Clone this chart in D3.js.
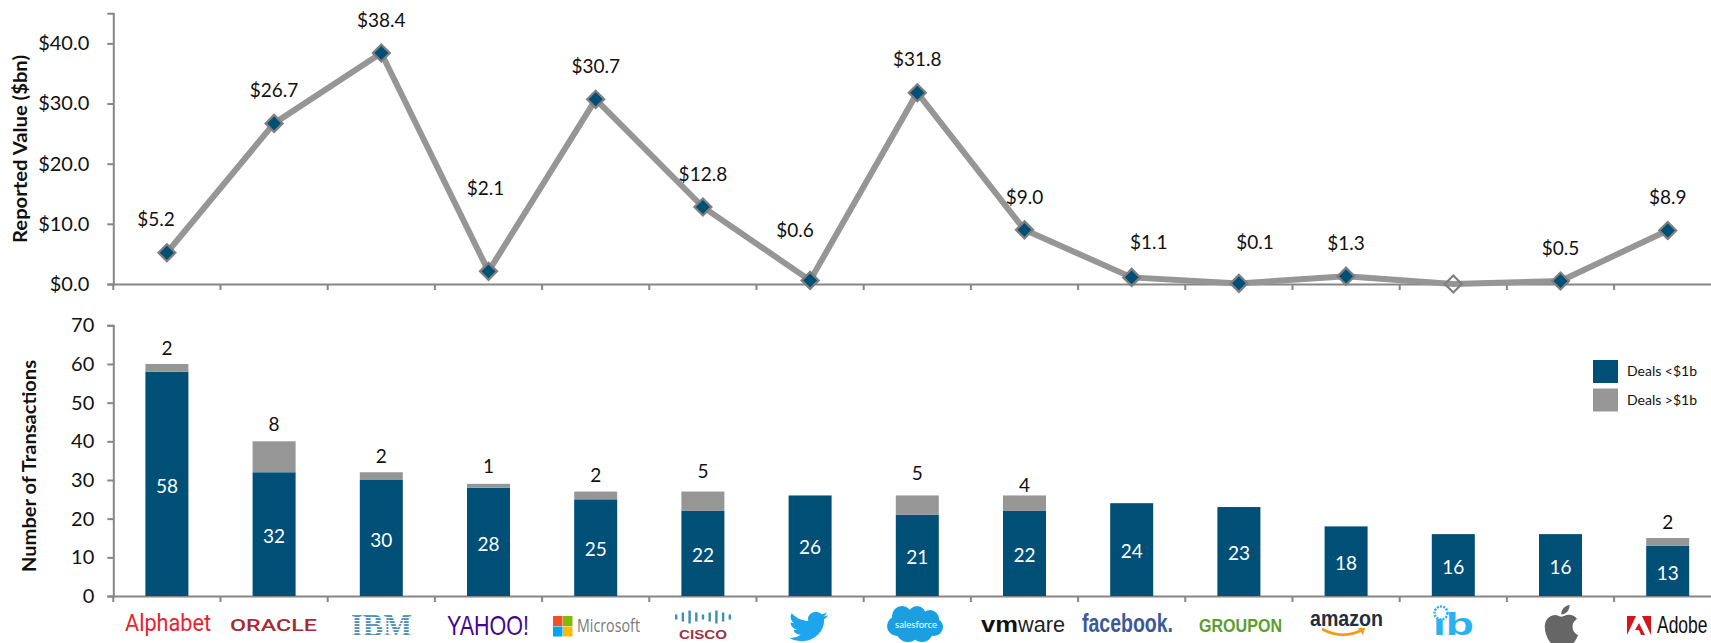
<!DOCTYPE html>
<html>
<head>
<meta charset="utf-8">
<script src="https://cdnjs.cloudflare.com/ajax/libs/d3/7.8.5/d3.min.js"></script>
<style>
html,body{margin:0;padding:0;background:#fff;overflow:hidden}
svg{display:block}
text{font-family:Lato,"Open Sans",sans-serif}
</style>
</head>
<body>
<svg id="chart" width="1711" height="643"></svg>
<script>
const companies = ["Alphabet","Oracle","IBM","Yahoo","Microsoft","Cisco","Twitter","Salesforce","VMware","Facebook","Groupon","Amazon","IB","Apple","Adobe"];
const reportedValue = [5.2,26.7,38.4,2.1,30.7,12.8,0.6,31.8,9.0,1.1,0.1,1.3,0,0.5,8.9];
const hasReportedValue = [1,1,1,1,1,1,1,1,1,1,1,1,0,1,1];
const dealsUnder1b = [58,32,30,28,25,22,26,21,22,24,23,18,16,16,13];
const dealsOver1b = [2,8,2,1,2,5,0,5,4,0,0,0,0,0,2];
const valueTicks = [0,10,20,30,40];
const countTicks = [0,10,20,30,40,50,60,70];
const legendLabels = ["Deals <$1b","Deals >$1b"];

const BLUE="#004f76", GREY="#969696", AXIS="#868686", INK="#111";
const svg=d3.select("#chart");
const left=113.3, band=107.2;
const x=d3.scaleBand().domain(companies).range([left,left+band*companies.length]).paddingInner(0).paddingOuter(0);
const yTop=d3.scaleLinear().domain([0,45]).range([284,13.3]);
const yBot=d3.scaleLinear().domain([0,70]).range([596,325.3]);
const cx=c=>x(c)+x.bandwidth()/2;

function axes(scale,ticks,fmt,pad){
  const y0=scale.range()[0];
  const ay=d3.axisLeft(scale).tickValues(ticks).tickFormat(fmt).tickSize(6).tickPadding(pad);
  const gy=svg.append("g").attr("transform",`translate(${left},0)`).call(ay);
  gy.selectAll("path,line").attr("stroke",AXIS).attr("stroke-width",2);
  gy.selectAll("text").attr("font-size",20).attr("fill",INK).style("font-family","Lato");
  const ax=d3.axisBottom(x).tickValues(companies).tickFormat("").tickSize(0);
  const gx=svg.append("g").attr("transform",`translate(0,${y0})`).call(ax);
  gx.select("path").attr("stroke",AXIS).attr("stroke-width",2);
  gx.selectAll(".tick").remove();
  gx.selectAll("line.t").data(companies).join("line").attr("class","t")
    .attr("x1",c=>x(c)).attr("x2",c=>x(c)).attr("y1",0).attr("y2",6)
    .attr("stroke",AXIS).attr("stroke-width",2);
}
axes(yTop,valueTicks,d=>"$"+d3.format(".1f")(d),18);
axes(yBot,countTicks,d=>d,13);

// axis titles
svg.append("text").attr("transform","translate(21,149) rotate(-90)").attr("dy","0.35em").attr("text-anchor","middle")
  .attr("font-size",18).attr("font-weight",700).attr("fill",INK).attr("textLength",188).attr("lengthAdjust","spacingAndGlyphs").text("Reported Value ($bn)");
svg.append("text").attr("transform","translate(30,466) rotate(-90)").attr("dy","0.35em").attr("text-anchor","middle")
  .attr("font-size",18).attr("font-weight",700).attr("fill",INK).attr("textLength",212).attr("lengthAdjust","spacingAndGlyphs").text("Number of Transactions");

// line
const line=d3.line().x((d,i)=>cx(companies[i])).y(d=>yTop(d));
svg.append("path").datum(reportedValue).attr("d",line).attr("fill","none").attr("stroke",GREY).attr("stroke-width",6).attr("stroke-linejoin","miter");
svg.selectAll("path.m").data(reportedValue).join("path").attr("class","m")
  .attr("transform",(d,i)=>`translate(${cx(companies[i])},${yTop(d)})`)
  .attr("d",`M0,-8.5 L8.5,0 L0,8.5 L-8.5,0 Z`)
  .attr("fill",(d,i)=>hasReportedValue[i]?BLUE:"none")
  .attr("stroke","#7f7f7f").attr("stroke-width",2.2);

// value labels (manual placement, as in the source chart)
const topNudge=[[-11,-33],[0,-33],[0,-33],[-3,-83],[0,-33],[0,-33],[-15,-50],[0,-33],[0,-33],[17,-35],[16,-41],[0,-33],[0,0],[0,-33],[0,-33]];
const labelled=d3.range(companies.length).filter(i=>hasReportedValue[i]);
svg.selectAll("text.v").data(labelled).join("text").attr("class","v")
  .attr("x",i=>cx(companies[i])+topNudge[i][0])
  .attr("y",i=>yTop(reportedValue[i])+topNudge[i][1])
  .attr("text-anchor","middle").attr("dy","0.35em").attr("font-size",19).attr("fill",INK)
  .text(i=>"$"+d3.format(".1f")(reportedValue[i]));

// bars
const bw=43;
companies.forEach((c,i)=>{
  const a=dealsUnder1b[i], b=dealsOver1b[i];
  svg.append("rect").attr("x",cx(c)-bw/2).attr("width",bw).attr("y",yBot(a)).attr("height",yBot(0)-yBot(a)).attr("fill",BLUE);
  if(b>0) svg.append("rect").attr("x",cx(c)-bw/2).attr("width",bw).attr("y",yBot(a+b)).attr("height",yBot(a)-yBot(a+b)).attr("fill",GREY);
  svg.append("text").attr("x",cx(c)).attr("y",yBot(a/2)+2).attr("dy","0.35em").attr("text-anchor","middle").attr("font-size",19).attr("fill","#fff").text(a);
});
const overDy=[-16,-17,-16,-18,-16,-20,0,-22,-10,0,0,0,0,0,-16];
companies.forEach((c,i)=>{
  if(dealsOver1b[i]>0) svg.append("text").attr("x",cx(c)).attr("y",yBot(dealsUnder1b[i]+dealsOver1b[i])+overDy[i]).attr("dy","0.35em")
    .attr("text-anchor","middle").attr("font-size",19).attr("fill",INK).text(dealsOver1b[i]);
});

// legend
legendLabels.forEach((t,i)=>{
  const ly=360+i*28.5;
  svg.append("rect").attr("x",1593).attr("y",ly).attr("width",25).attr("height",23).attr("fill",i?GREY:BLUE);
  svg.append("text").attr("x",1627).attr("y",ly+11.5).attr("dy","0.35em").attr("font-size",14).attr("fill",INK).text(t);
});

// company logos, as styled text and simple shapes
const logo=svg.append("g");
function word(t,x0,x1,base,size,fill,weight,family){
  return logo.append("text").attr("x",x0).attr("y",base).attr("font-size",size).attr("fill",fill)
   .attr("font-weight",weight||400).style("font-family",family||"Lato")
   .attr("textLength",x1-x0).attr("lengthAdjust","spacingAndGlyphs").text(t);
}
word("Alphabet",125,211,631,23,"#e8232d",400,"Roboto");
word("ORACLE",230,317,631,17,"#a72b35",500,"Roboto");
// IBM striped
word("IBM",351,412,636,31,"#4f8db5",700,"Liberation Serif");
for(let k=0;k<8;k++) logo.append("rect").attr("x",349).attr("width",65).attr("y",614+k*3).attr("height",1.1).attr("fill","#fff");
word("YAHOO!",447,529,635,28,"#41098f",400,"Liberation Sans");
// Microsoft
[["#f25022",553,616],["#7fba00",563,616],["#00a4ef",553,626.5],["#ffb900",563,626.5]].forEach(s=>
  logo.append("rect").attr("x",s[1]).attr("y",s[2]).attr("width",9.5).attr("height",10).attr("fill",s[0]));
word("Microsoft",577,640,632,19,"#7a7a7a",400,"Open Sans");
// Cisco
const ciscoH=[5,9,13,9,5,9,13,9,5];
ciscoH.forEach((h,k)=>logo.append("rect").attr("x",675+k*6.7).attr("width",2.4).attr("y",617-h/2).attr("height",h).attr("fill","#3f8fae"));
word("CISCO",679,727,639,13,"#a1323f",700,"Liberation Sans");
// Twitter
logo.append("path").attr("transform","translate(789,608.5) scale(1.63,1.5)").attr("fill","#1da5ee")
 .attr("d","M23.953 4.57a10 10 0 01-2.825.775 4.958 4.958 0 002.163-2.723c-.951.555-2.005.959-3.127 1.184a4.92 4.92 0 00-8.384 4.482C7.69 8.095 4.067 6.13 1.64 3.162a4.822 4.822 0 00-.666 2.475c0 1.71.87 3.213 2.188 4.096a4.904 4.904 0 01-2.228-.616v.06a4.923 4.923 0 003.946 4.827 4.996 4.996 0 01-2.212.085 4.936 4.936 0 004.604 3.417 9.867 9.867 0 01-6.102 2.105c-.39 0-.779-.023-1.17-.067a13.995 13.995 0 007.557 2.209c9.053 0 13.998-7.496 13.998-13.985 0-.21 0-.42-.015-.63A9.935 9.935 0 0024 4.59z");
// Salesforce cloud
[[902,616,10],[917,615,9],[930,619,9],[934,627,9],[897,626,10],[908,630,12],[922,631,11]].forEach(c=>
  logo.append("circle").attr("cx",c[0]).attr("cy",c[1]).attr("r",c[2]).attr("fill","#1b9fe0"));
word("salesforce",895,937,628,10,"#fff",400,"Lato");
// VMware
word("vm",981,1018,632,22,"#111",700,"Liberation Sans");
word("ware",1018,1065,632,22,"#222",400,"Liberation Sans");
// Facebook
word("facebook.",1082,1173,632,26,"#3b5998",700,"Liberation Sans");
// Groupon
word("GROUPON",1199,1282,632,18,"#5c9e2e",700,"Liberation Sans");
// Amazon
word("amazon",1310,1383,626,22,"#222f3e",700,"Liberation Sans");
logo.append("path").attr("d","M1322,629 Q1342,640 1362,630").attr("fill","none").attr("stroke","#f39a1e").attr("stroke-width",2.6);
logo.append("path").attr("d","M1358,628 L1365,628 L1363,635 Z").attr("fill","#f39a1e");
// ib
word("ib",1433,1474,635,32,"#2ab2ee",700,"Liberation Sans");
logo.append("circle").attr("cx",1441).attr("cy",613).attr("r",6.5).attr("fill","#fff").attr("stroke","#2ab2ee").attr("stroke-width",2.5).attr("stroke-dasharray","2 1.2");
// Apple
logo.append("path").attr("transform","translate(1541,605) scale(1.7,1.7)").attr("fill","#666")
 .attr("d","M12.152 6.896c-.948 0-2.415-1.078-3.96-1.04-2.04.027-3.91 1.183-4.961 3.014-2.117 3.675-.546 9.103 1.519 12.09 1.013 1.454 2.208 3.09 3.792 3.039 1.52-.065 2.09-.987 3.935-.987 1.831 0 2.35.987 3.96.948 1.637-.026 2.676-1.48 3.676-2.948 1.156-1.688 1.636-3.325 1.662-3.415-.039-.013-3.182-1.221-3.22-4.857-.026-3.04 2.48-4.494 2.597-4.559-1.429-2.09-3.623-2.324-4.39-2.376-2-.156-3.675 1.09-4.61 1.09zM15.53 3.83c.843-1.012 1.4-2.427 1.245-3.83-1.207.052-2.662.805-3.532 1.818-.78.896-1.454 2.338-1.273 3.714 1.338.104 2.715-.688 3.559-1.701");
// Adobe
logo.append("path").attr("d","M1627,616 L1636,616 L1627,635 Z M1642,616 L1651,616 L1651,635 Z M1639,623 L1645,635 L1641,635 L1639,630 L1635,630 Z").attr("fill","#d4161c");
logo.append("text").attr("transform","translate(1657,633) scale(0.76,1)").attr("font-size",23).attr("fill","#111").style("font-family","Liberation Sans").text("Adobe");
</script>
</body>
</html>
